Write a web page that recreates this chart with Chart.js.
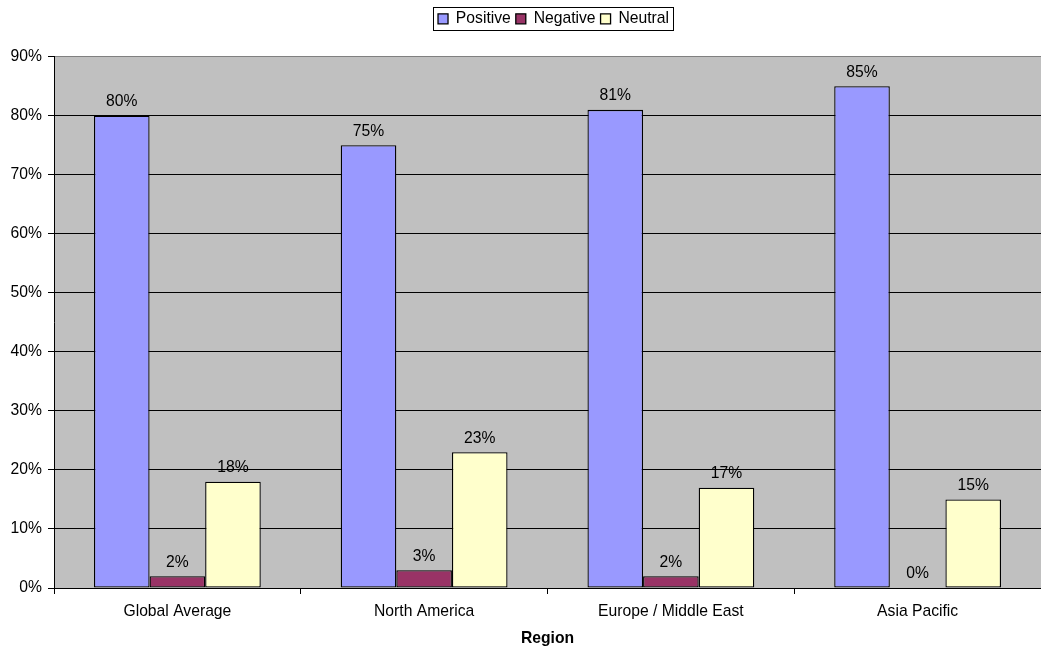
<!DOCTYPE html>
<html>
<head>
<meta charset="utf-8">
<script src="https://cdn.jsdelivr.net/npm/chart.js@4.4.0/dist/chart.umd.min.js"></script>
<style>
    html, body { margin: 0; padding: 0; background: #fff; }
    #wrap { width: 1041px; height: 650px; }
</style>
</head>
<body>
<div id="wrap"><canvas id="chart"></canvas></div>
<script>
// Values
const regions = ['Global Average', 'North America', 'Europe / Middle East', 'Asia Pacific'];
const positive = [80, 75, 81, 85];
const negative = [2, 3, 2, 0];
const neutral = [18, 23, 17, 15];
const yTicks = [0, 10, 20, 30, 40, 50, 60, 70, 80, 90];

const FONT = "'Liberation Sans', Arial, sans-serif";
const SIZE = 15.7;

// Grey plot background
const plotBackground = {
    id: 'plotBackground',
    beforeDraw(chart) {
        const { ctx, chartArea: a } = chart;
        ctx.save();
        ctx.fillStyle = '#C0C0C0';
        ctx.fillRect(a.left, a.top, a.right - a.left, a.bottom - a.top);
        ctx.restore();
    }
};

// Percent labels above each bar
const barLabels = {
    id: 'barLabels',
    afterDatasetsDraw(chart) {
        const ctx = chart.ctx;
        ctx.save();
        ctx.font = SIZE + 'px ' + FONT;
        ctx.fillStyle = '#000';
        ctx.textAlign = 'center';
        ctx.textBaseline = 'bottom';
        chart.data.datasets.forEach((ds, i) => {
            chart.getDatasetMeta(i).data.forEach((bar, j) => {
                ctx.fillText(ds.data[j] + '%', bar.x, bar.y - 6);
            });
        });
        ctx.restore();
    }
};

// Extra room under the legend, centre it over the plot, thin black frame round it
const legendFrame = {
    id: 'legendFrame',
    beforeLayout(chart) {
        const legend = chart.legend;
        if (!legend || legend._padded) return;
        const fit = legend.fit;
        legend.fit = function () {
            fit.call(this);
            this.height += 20;
        };
        legend._padded = true;
    },
    afterLayout(chart) {
        const legend = chart.legend;
        const a = chart.chartArea;
        const shift = Math.round((a.left + a.right) / 2 - (legend.left + legend.right) / 2) + 6;
        legend.left += shift;
        legend.right += shift;
    },
    afterDraw(chart) {
        const boxes = chart.legend.legendHitBoxes;
        if (!boxes || !boxes.length) return;
        const left = Math.min(...boxes.map(b => b.left)) - 5;
        const right = Math.max(...boxes.map(b => b.left + b.width)) + 4;
        const top = boxes[0].top - 4;
        const bottom = boxes[0].top + boxes[0].height + 3;
        const ctx = chart.ctx;
        ctx.save();
        ctx.strokeStyle = '#000';
        ctx.lineWidth = 1;
        ctx.strokeRect(Math.round(left) + 0.5, Math.round(top) + 0.5, Math.round(right - left), Math.round(bottom - top));
        ctx.restore();
    }
};

const makeSet = (label, data, color) => ({
    label,
    data,
    backgroundColor: color,
    borderColor: '#000',
    borderWidth: 1.3,
    borderSkipped: false,
    categoryPercentage: 0.676,
    barPercentage: 1.0
});

new Chart(document.getElementById('chart'), {
    type: 'bar',
    data: {
        labels: regions,
        datasets: [
            makeSet('Positive', positive, '#9999FF'),
            makeSet('Negative', negative, '#993366'),
            makeSet('Neutral', neutral, '#FFFFCC')
        ]
    },
    options: {
        responsive: true,
        maintainAspectRatio: false,
        animation: false,
        layout: { padding: { top: 6, right: 0, bottom: 0, left: 0 } },
        plugins: {
            legend: {
                position: 'top',
                labels: {
                    color: '#000',
                    font: { family: FONT, size: SIZE },
                    boxWidth: 10,
                    boxHeight: 10,
                    padding: 5,
                    useBorderRadius: false
                },
                onClick: null
            },
            tooltip: { enabled: false },
            title: { display: false }
        },
        scales: {
            x: {
                offset: true,
                grid: {
                    offset: true,
                    drawOnChartArea: false,
                    drawTicks: true,
                    tickLength: 6,
                    color: '#000'
                },
                border: { color: '#000', width: 1 },
                ticks: {
                    color: '#000',
                    font: { family: FONT, size: SIZE },
                    padding: 8
                },
                title: {
                    display: true,
                    text: 'Region',
                    color: '#000',
                    font: { family: FONT, size: SIZE, weight: 'bold' },
                    padding: { top: 2, bottom: 2 }
                },
                afterFit(scale) { scale.height = 62; }
            },
            y: {
                min: 0,
                max: 90,
                afterBuildTicks(scale) {
                    scale.ticks = yTicks.map(v => ({ value: v }));
                },
                grid: {
                    color: (c) => c.tick && c.tick.value === 90 ? '#808080' : '#000',
                    tickColor: '#000',
                    tickLength: 6
                },
                border: { color: '#000', width: 1 },
                ticks: {
                    color: '#000',
                    font: { family: FONT, size: SIZE },
                    padding: 6,
                    callback: (v) => v + '%'
                },
                afterFit(scale) { scale.width = 54; }
            }
        }
    },
    plugins: [plotBackground, barLabels, legendFrame]
});
</script>
</body>
</html>
